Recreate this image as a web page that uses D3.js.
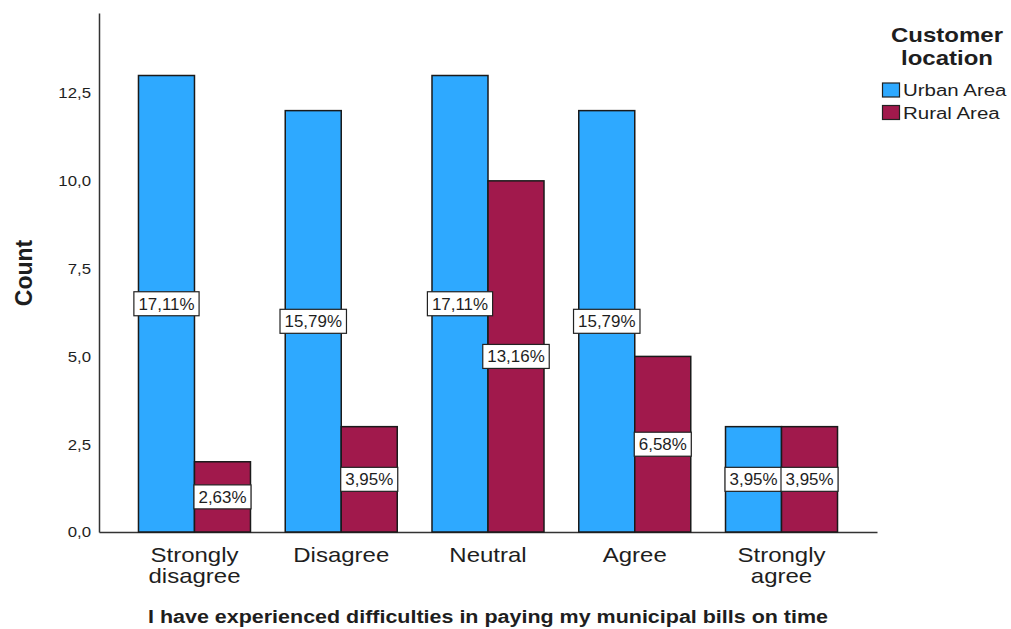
<!DOCTYPE html>
<html>
<head>
<meta charset="utf-8">
<script src="https://cdn.jsdelivr.net/npm/d3@7"></script>
<style>
  body { margin: 0; background: #fff; }
  svg { display: block; }
  text { font-family: "Liberation Sans", Arial, sans-serif; fill: #1e1e1e; }
</style>
</head>
<body>
<svg id="chart" width="1011" height="629"></svg>
<script>
// Counts per answer, split by customer location
const categories = ["Strongly disagree", "Disagree", "Neutral", "Agree", "Strongly agree"];
const categoryLines = [["Strongly", "disagree"], ["Disagree"], ["Neutral"], ["Agree"], ["Strongly", "agree"]];
const seriesNames = ["Urban Area", "Rural Area"];
const urbanCounts = [13, 12, 13, 12, 3];
const ruralCounts = [2, 3, 10, 5, 3];
const yTicks = [0, 2.5, 5, 7.5, 10, 12.5];
const seriesColors = ["#2ea9ff", "#a1194c"];
const legendTitle = ["Customer", "location"];
const yTitle = "Count";
const xTitle = "I have experienced difficulties in paying my municipal bills on time";

const svg = d3.select("#chart");
const plot = { left: 99, right: 877, top: 13, bottom: 532 };

const total = d3.sum(urbanCounts) + d3.sum(ruralCounts);
const rows = categories.map((c, i) => ({ cat: c, values: [urbanCounts[i], ruralCounts[i]] }));

const commaLocale = d3.formatLocale({ decimal: ",", thousands: ".", grouping: [3], currency: ["", ""] });
const fmtTick = commaLocale.format(".1f");
const fmtPct = commaLocale.format(".2f");

const x0 = d3.scaleBand().domain(categories)
  .range([plot.left, plot.right])
  .paddingInner(0.2368).paddingOuter(0.269);
const x1 = d3.scaleBand().domain(seriesNames).range([0, x0.bandwidth()]);
const y = d3.scaleLinear().domain([0, 14.78]).range([plot.bottom, plot.top]);

// Text placed in a group so it can be widened horizontally
function addText(parent, x, yPos, str, o) {
  const g = parent.append("g")
    .attr("transform", `translate(${x},${yPos}) scale(${o.sx || 1},1)`);
  const t = g.append("text")
    .attr("text-anchor", o.anchor || "start")
    .style("font-size", o.size + "px")
    .style("font-weight", o.weight || "normal")
    .text(str);
  if (o.dy) t.attr("dy", o.dy);
  return t;
}

// Axes (lines only, no tick marks)
const yAxis = svg.append("g").attr("transform", `translate(${plot.left},0)`)
  .call(d3.axisLeft(y).tickValues(yTicks).tickSize(0).tickFormat(""));
yAxis.select(".domain").attr("stroke", "#333").attr("stroke-width", 1.5);
const xAxis = svg.append("g").attr("transform", `translate(0,${plot.bottom})`)
  .call(d3.axisBottom(x0).tickSize(0).tickFormat(""));
xAxis.select(".domain").attr("stroke", "#333").attr("stroke-width", 1.5);

// Y tick labels
const tickLayer = svg.append("g");
yTicks.forEach(v => addText(tickLayer, 91, y(v), fmtTick(v), { size: 15, sx: 1.12, anchor: "end", dy: "0.36em" }));

// Bars
const groups = svg.append("g").selectAll("g").data(rows).join("g")
  .attr("transform", d => `translate(${x0(d.cat)},0)`);
groups.selectAll("rect").data(d => d.values.map((v, k) => ({ v, k }))).join("rect")
  .attr("x", d => x1(seriesNames[d.k]))
  .attr("y", d => y(d.v))
  .attr("width", x1.bandwidth())
  .attr("height", d => y(0) - y(d.v))
  .attr("fill", d => seriesColors[d.k])
  .attr("stroke", "#1a1a1a")
  .attr("stroke-width", 1.5);

// Percentage labels in white boxes at bar middles
const pctSx = 1.06;
const labelLayer = svg.append("g");
rows.forEach(r => {
  r.values.forEach((v, k) => {
    const cx = x0(r.cat) + x1(seriesNames[k]) + x1.bandwidth() / 2;
    const cy = y(v / 2);
    const g = labelLayer.append("g");
    const box = g.append("rect");
    const t = addText(g, cx, cy, fmtPct(v / total * 100) + "%", { size: 16, sx: pctSx, anchor: "middle", dy: "0.36em" });
    const w = Math.max(t.node().getComputedTextLength() * pctSx + 9, x1.bandwidth());
    box.attr("x", cx - w / 2).attr("y", cy - 12).attr("width", w).attr("height", 24)
      .attr("fill", "#fff").attr("stroke", "#222").attr("stroke-width", 1.2);
  });
});

// Category labels
const catLayer = svg.append("g");
categories.forEach((c, i) => {
  const cx = x0(c) + x0.bandwidth() / 2;
  categoryLines[i].forEach((line, j) => addText(catLayer, cx, 562 + j * 21, line, { size: 20, sx: 1.2, anchor: "middle" }));
});

// Axis titles
svg.append("text")
  .attr("transform", "translate(32,273) rotate(-90)")
  .attr("text-anchor", "middle")
  .style("font-size", "23px").style("font-weight", "bold")
  .text(yTitle);
svg.append("text")
  .attr("x", 148).attr("y", 623)
  .attr("textLength", 680).attr("lengthAdjust", "spacingAndGlyphs")
  .style("font-size", "18px").style("font-weight", "bold")
  .text(xTitle);

// Legend
const legend = svg.append("g");
legendTitle.forEach((line, j) => addText(legend, 947, 42 + j * 23, line, { size: 20, sx: 1.2, anchor: "middle", weight: "bold" }));
seriesNames.forEach((name, k) => {
  legend.append("rect")
    .attr("x", 882.5).attr("y", 83 + k * 22.5).attr("width", 17).attr("height", 14)
    .attr("fill", seriesColors[k]).attr("stroke", "#222").attr("stroke-width", 1.2);
  addText(legend, 903, 96 + k * 22.5, name, { size: 16, sx: 1.28 });
});
</script>
</body>
</html>
